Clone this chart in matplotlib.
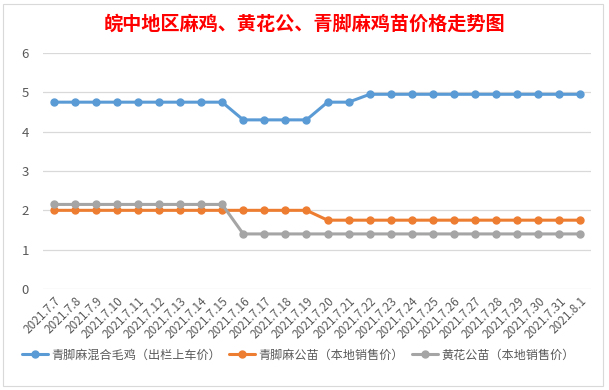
import matplotlib
matplotlib.use("Agg")
import matplotlib.pyplot as plt
from matplotlib.patches import Rectangle

plt.rcParams['font.family'] = ['Noto Sans CJK SC', 'DejaVu Sans']

dates = ["2021.7.7", "2021.7.8", "2021.7.9", "2021.7.10", "2021.7.11", "2021.7.12",
         "2021.7.13", "2021.7.14", "2021.7.15", "2021.7.16", "2021.7.17", "2021.7.18",
         "2021.7.19", "2021.7.20", "2021.7.21", "2021.7.22", "2021.7.23", "2021.7.24",
         "2021.7.25", "2021.7.26", "2021.7.27", "2021.7.28", "2021.7.29", "2021.7.30",
         "2021.7.31", "2021.8.1"]

mixed_hen = [4.75, 4.75, 4.75, 4.75, 4.75, 4.75, 4.75, 4.75, 4.75,
             4.3, 4.3, 4.3, 4.3, 4.75, 4.75,
             4.95, 4.95, 4.95, 4.95, 4.95, 4.95, 4.95, 4.95, 4.95, 4.95, 4.95]
qingjiao_cock = [2.0] * 13 + [1.75] * 13
huanghua_cock = [2.15] * 9 + [1.4] * 17

series_names = ["青脚麻混合毛鸡（出栏上车价）", "青脚麻公苗（本地销售价）", "黄花公苗（本地销售价）"]
colors = ["#5B9BD5", "#ED7D31", "#A5A5A5"]
title = "皖中地区麻鸡、黄花公、青脚麻鸡苗价格走势图"

W, H = 609, 390
fig = plt.figure(figsize=(W / 100, H / 100), dpi=100)
fig.patch.set_facecolor("white")

# chart border
fig.add_artist(Rectangle((3 / W, 4 / H), 600 / W, 382 / H, transform=fig.transFigure,
                         fill=False, edgecolor="#D9D9D9", linewidth=0.8))

ax = fig.add_axes([43 / W, (H - 289) / H, (591 - 43) / W, (289 - 53) / H])
x = list(range(len(dates)))
for vals, name, c in zip([mixed_hen, qingjiao_cock, huanghua_cock], series_names, colors):
    ax.plot(x, vals, color=c, linewidth=2.2, marker="o", markersize=5, label=name,
            solid_capstyle="round", zorder=3)

ax.set_ylim(0, 6)
ax.set_yticks(range(0, 7))
ax.set_xlim(-0.5, len(dates) - 0.5)
ax.set_xticks(x)
ax.set_xticklabels(dates, rotation=45, ha="right", rotation_mode="anchor",
                   fontsize=8.5, color="#595959")
ax.tick_params(axis="y", labelsize=9.5, labelcolor="#595959", length=0, pad=10)
ax.tick_params(axis="x", length=0, pad=4)
ax.grid(axis="y", color="#D9D9D9", linewidth=0.9)
for s in ax.spines.values():
    s.set_visible(False)

fig.text(0.5, (H - 24) / H, title, ha="center", va="center", color="#FF0000",
         fontsize=13.8, fontweight="bold")

leg = fig.legend(loc="center", bbox_to_anchor=(0.49, (H - 355) / H), ncol=3, frameon=False,
                 fontsize=8.7, handlelength=2.1, columnspacing=0.7, handletextpad=0.3)
for t in leg.get_texts():
    t.set_color("#595959")

fig.savefig("out.png", dpi=100)
